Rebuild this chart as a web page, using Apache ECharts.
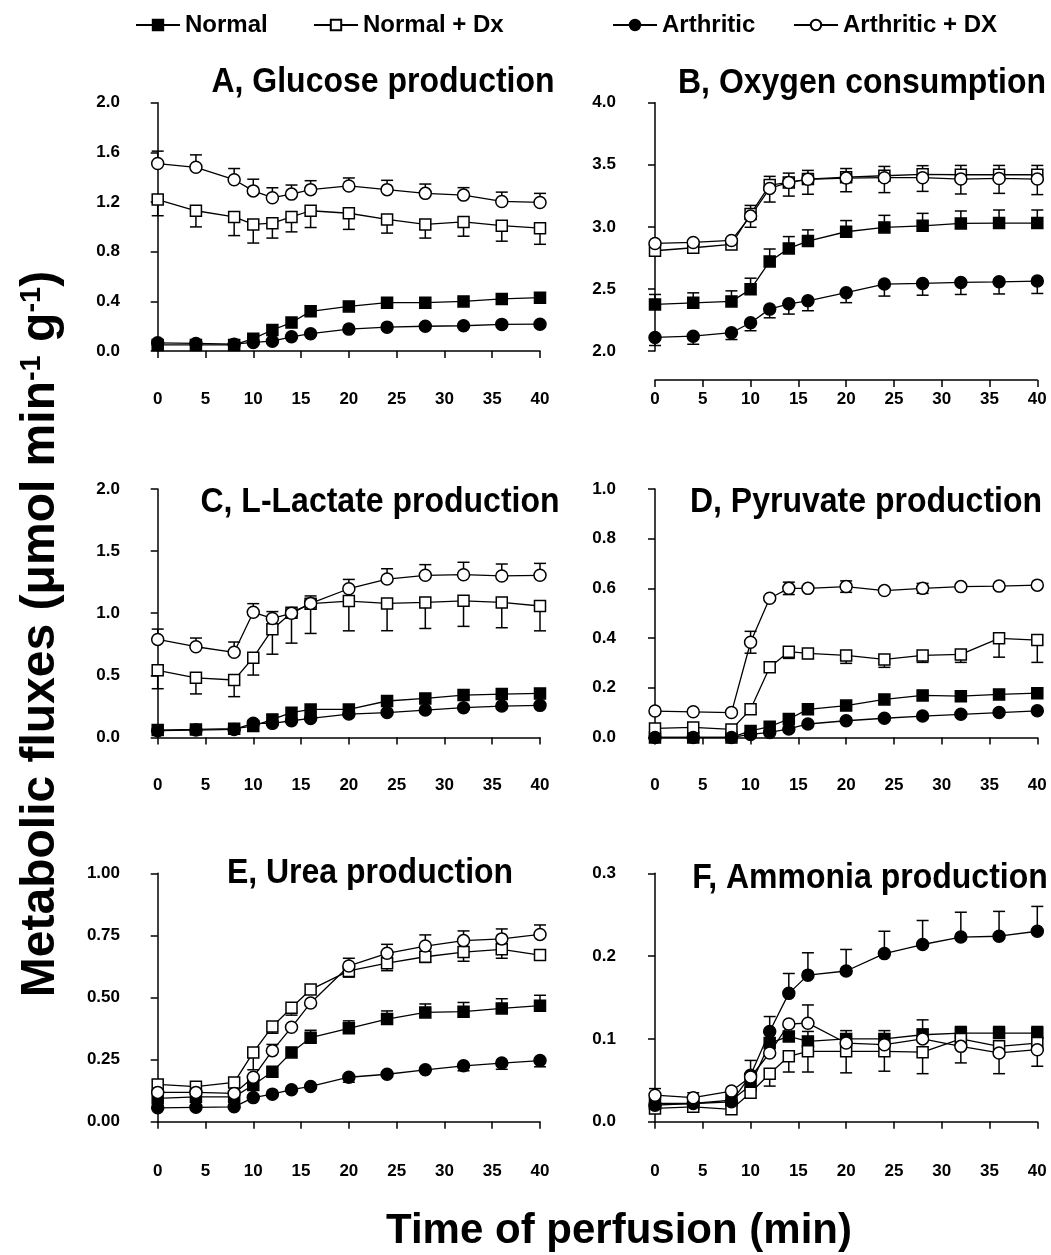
<!DOCTYPE html>
<html>
<head>
<meta charset="utf-8">
<title>Metabolic fluxes</title>
<script src="https://cdn.jsdelivr.net/npm/echarts@6/dist/echarts.min.js"></script>
<style>
html, body { margin: 0; padding: 0; background: #fff; }
#chart { width: 1051px; height: 1255px; }
</style>
</head>
<body>
<div id="chart"></div>
<script>
// sampling times (min)
var times = [0, 4, 8, 10, 12, 14, 16, 20, 24, 28, 32, 36, 40];
var groups = ['Normal', 'Normal + Dx', 'Arthritic', 'Arthritic + DX'];

// error bars: + drawn upwards, - drawn downwards, 0 = not visible
// A, glucose
var glucoseNormal = [0.05, 0.05, 0.05, 0.10, 0.17, 0.23, 0.32, 0.36, 0.39, 0.39, 0.40, 0.42, 0.43];
var glucoseNormalDx = [1.22, 1.13, 1.08, 1.02, 1.03, 1.08, 1.13, 1.11, 1.06, 1.02, 1.04, 1.01, 0.99];
var glucoseArth = [0.067, 0.062, 0.056, 0.07, 0.08, 0.115, 0.14, 0.177, 0.193, 0.20, 0.204, 0.215, 0.217];
var glucoseArthDx = [1.51, 1.48, 1.38, 1.29, 1.235, 1.264, 1.30, 1.33, 1.30, 1.27, 1.256, 1.205, 1.197];
var glucoseNormalDxErr = [-0.13, -0.13, -0.15, -0.15, -0.12, -0.12, -0.135, -0.13, -0.11, -0.11, -0.115, -0.125, -0.13];
var glucoseArthDxErr = [0.10, 0.10, 0.09, 0.094, 0.08, 0.073, 0.072, 0.064, 0.075, 0.075, 0.06, 0.075, 0.073];

// B, oxygen
var oxygenNormal = [2.376, 2.389, 2.40, 2.497, 2.722, 2.827, 2.886, 2.961, 2.996, 3.009, 3.028, 3.031, 3.031];
var oxygenNormalDx = [2.808, 2.832, 2.859, 3.103, 3.337, 3.358, 3.385, 3.40, 3.412, 3.423, 3.42, 3.42, 3.42];
var oxygenArth = [2.11, 2.12, 2.148, 2.228, 2.338, 2.381, 2.405, 2.47, 2.54, 2.545, 2.553, 2.558, 2.564];
var oxygenArthDx = [2.867, 2.875, 2.891, 3.087, 3.31, 3.358, 3.383, 3.393, 3.396, 3.396, 3.385, 3.39, 3.385];
var oxygenNormalErr = [0.08, 0.08, 0.085, 0.09, 0.10, 0.095, 0.09, 0.09, 0.097, 0.10, 0.10, 0.105, 0.105];
var oxygenNormalDxErr = [0.02, 0.02, 0.02, 0.07, 0.07, 0.075, 0.07, 0.07, 0.075, 0.07, 0.075, 0.075, 0.075];
var oxygenArthErr = [-0.065, -0.065, -0.055, -0.064, -0.07, -0.083, -0.08, -0.08, -0.097, -0.095, -0.097, -0.098, -0.10];
var oxygenArthDxErr = [-0.02, -0.02, -0.02, -0.09, -0.11, -0.11, -0.12, -0.11, -0.12, -0.11, -0.12, -0.12, -0.125];

// C, L-lactate
var lactateNormal = [0.059, 0.064, 0.07, 0.091, 0.145, 0.199, 0.225, 0.225, 0.293, 0.314, 0.341, 0.349, 0.354];
var lactateNormalDx = [0.54, 0.48, 0.462, 0.642, 0.87, 1.004, 1.077, 1.098, 1.079, 1.087, 1.10, 1.087, 1.058];
var lactateArth = [0.054, 0.059, 0.064, 0.113, 0.113, 0.134, 0.153, 0.188, 0.20, 0.22, 0.239, 0.252, 0.258];
var lactateArthDx = [0.789, 0.73, 0.685, 1.007, 0.958, 0.999, 1.079, 1.197, 1.275, 1.305, 1.31, 1.30, 1.305];
var lactateNormalDxErr = [-0.148, -0.13, -0.134, -0.14, -0.2, -0.245, -0.24, -0.24, -0.22, -0.21, -0.206, -0.204, -0.2];
var lactateArthDxErr = [0.083, 0.07, 0.083, 0.07, 0.055, 0.03, 0.06, 0.075, 0.083, 0.086, 0.10, 0.096, 0.096];

// D, pyruvate
var pyruvateNormal = [0, 0, 0, 0.026, 0.043, 0.074, 0.113, 0.128, 0.153, 0.169, 0.166, 0.173, 0.178];
var pyruvateNormalDx = [0.036, 0.04, 0.032, 0.113, 0.282, 0.345, 0.338, 0.33, 0.314, 0.33, 0.334, 0.399, 0.392];
var pyruvateArth = [0, 0, 0, 0.012, 0.02, 0.034, 0.054, 0.067, 0.077, 0.086, 0.093, 0.10, 0.107];
var pyruvateArthDx = [0.106, 0.103, 0.10, 0.383, 0.56, 0.60, 0.60, 0.607, 0.591, 0.60, 0.607, 0.609, 0.613];
var pyruvateNormalDxErr = [0, 0, 0, -0.015, 0, -0.027, -0.02, -0.032, -0.032, -0.028, -0.032, -0.076, -0.09];
var pyruvateArthDxErr = [0, 0, 0, 0.044, 0, 0.025, 0, 0.023, 0, 0.02, 0, 0, 0]; // two-sided

// E, urea
var ureaNormal = [0.094, 0.10, 0.10, 0.148, 0.201, 0.279, 0.338, 0.376, 0.413, 0.44, 0.443, 0.456, 0.467];
var ureaNormalDx = [0.15, 0.141, 0.158, 0.279, 0.383, 0.459, 0.532, 0.607, 0.638, 0.664, 0.683, 0.694, 0.671];
var ureaArth = [0.056, 0.058, 0.06, 0.097, 0.111, 0.129, 0.142, 0.179, 0.191, 0.209, 0.225, 0.236, 0.246];
var ureaArthDx = [0.118, 0.118, 0.114, 0.179, 0.286, 0.38, 0.478, 0.627, 0.678, 0.707, 0.729, 0.736, 0.754];
var ureaNormalErr = [0, 0, 0, 0, 0, 0, 0.03, 0.03, 0.033, 0.034, 0.037, 0.039, 0.042];
var ureaNormalDxErr = [0, 0, 0, -0.07, -0.027, -0.03, 0, -0.025, -0.03, -0.023, -0.037, -0.036, -0.02];
var ureaArthErr = [0, 0, 0, 0, 0, 0, 0, -0.02, 0, 0, -0.02, -0.025, -0.025];
var ureaArthDxErr = [0, 0, 0, 0, 0.025, 0, 0, 0.031, 0.036, 0.045, 0.039, 0.04, 0.038];

// F, ammonia
var ammoniaNormal = [0.022, 0.022, 0.026, 0.044, 0.095, 0.103, 0.097, 0.10, 0.10, 0.105, 0.107, 0.107, 0.107];
var ammoniaNormalDx = [0.016, 0.018, 0.015, 0.035, 0.058, 0.079, 0.085, 0.085, 0.085, 0.084, 0.10, 0.091, 0.095];
var ammoniaArth = [0.02, 0.022, 0.024, 0.056, 0.109, 0.155, 0.177, 0.182, 0.203, 0.214, 0.223, 0.224, 0.23];
var ammoniaArthDx = [0.032, 0.029, 0.037, 0.054, 0.083, 0.118, 0.119, 0.095, 0.093, 0.10, 0.091, 0.083, 0.087];
var ammoniaNormalErr = [0, 0, 0, 0, 0, 0, 0.012, 0.01, 0.01, 0.007, 0.008, 0.008, 0.008];
var ammoniaNormalDxErr = [0, 0, 0, 0, -0.015, -0.019, -0.025, -0.026, -0.024, -0.026, 0, 0, 0];
var ammoniaArthErr = [0, 0, 0, 0.018, 0.018, 0.024, 0.027, 0.026, 0.027, 0.029, 0.03, 0.03, 0.03];
var ammoniaArthDxErr = [0.008, 0.006, 0, 0, 0, 0, 0.022, 0, 0, 0.023, -0.02, -0.025, -0.02];

var panels = [
    { title: 'A, Glucose production', min: 0, max: 2, interval: 0.4, dec: 1, tx: 383, ty: 82,
      vals: [glucoseNormal, glucoseNormalDx, glucoseArth, glucoseArthDx],
      errs: [null, glucoseNormalDxErr, null, glucoseArthDxErr] },
    { title: 'B, Oxygen consumption', min: 2, max: 4, interval: 0.5, dec: 1, tx: 862, ty: 83,
      vals: [oxygenNormal, oxygenNormalDx, oxygenArth, oxygenArthDx],
      errs: [oxygenNormalErr, oxygenNormalDxErr, oxygenArthErr, oxygenArthDxErr] },
    { title: 'C, L-Lactate production', min: 0, max: 2, interval: 0.5, dec: 1, tx: 380, ty: 502,
      vals: [lactateNormal, lactateNormalDx, lactateArth, lactateArthDx],
      errs: [null, lactateNormalDxErr, null, lactateArthDxErr] },
    { title: 'D, Pyruvate production', min: 0, max: 1, interval: 0.2, dec: 1, tx: 866, ty: 502,
      vals: [pyruvateNormal, pyruvateNormalDx, pyruvateArth, pyruvateArthDx],
      errs: [null, pyruvateNormalDxErr, null, pyruvateArthDxErr], twoSided: 3 },
    { title: 'E, Urea production', min: 0, max: 1, interval: 0.25, dec: 2, tx: 370, ty: 873,
      vals: [ureaNormal, ureaNormalDx, ureaArth, ureaArthDx],
      errs: [ureaNormalErr, ureaNormalDxErr, ureaArthErr, ureaArthDxErr] },
    { title: 'F, Ammonia production', min: 0, max: 0.3, interval: 0.1, dec: 1, tx: 870, ty: 878,
      vals: [ammoniaNormal, ammoniaNormalDx, ammoniaArth, ammoniaArthDx],
      errs: [ammoniaNormalErr, ammoniaNormalDxErr, ammoniaArthErr, ammoniaArthDxErr] }
];

var FONT = '"Liberation Sans", Arial, Helvetica, sans-serif';
var colLeft = [157.7, 655];
var rowTop = [102.7, 489, 873.3];
var plotW = 382.3, plotH = 248.4;
var yOff = [26.7, 28];
var xOff = [29, 28.4, 30];
var symbols = ['rect', 'rect', 'circle', 'circle'];
var fills = ['#000', '#fff', '#000', '#fff'];
var sizes = [11, 11, 12, 12];
var legendLeft = [135, 313, 612, 793];

var grid = [], xAxis = [], yAxis = [], series = [], graphic = [];

panels.forEach(function (p, i) {
    var col = i % 2, row = Math.floor(i / 2);
    grid.push({ left: colLeft[col], top: rowTop[row], width: plotW, height: plotH });
    xAxis.push({
        gridIndex: i, type: 'value', min: 0, max: 40, interval: 5, offset: xOff[row],
        axisLine: { lineStyle: { color: '#000', width: 1.5 } },
        axisTick: { length: 7, lineStyle: { color: '#000', width: 1.5 } },
        axisLabel: { color: '#000', fontSize: 17, fontWeight: 'bold', fontFamily: FONT, margin: 11 },
        splitLine: { show: false }
    });
    yAxis.push({
        gridIndex: i, type: 'value', min: p.min, max: p.max, interval: p.interval, offset: yOff[col],
        axisLine: { show: true, lineStyle: { color: '#000', width: 1.5 } },
        axisTick: { show: true, length: 7, lineStyle: { color: '#000', width: 1.5 } },
        axisLabel: {
            color: '#000', fontSize: 17, fontWeight: 'bold', fontFamily: FONT, margin: 11,
            formatter: (function (d) { return function (v) { return v.toFixed(d); }; })(p.dec)
        },
        splitLine: { show: false }
    });

    // error bars under the markers
    p.vals.forEach(function (vals, g) {
        var errs = p.errs[g];
        if (!errs) return;
        var both = p.twoSided === g;
        series.push({
            type: 'custom', xAxisIndex: i, yAxisIndex: i, silent: true, z: 1,
            data: times.map(function (t, k) { return [t, vals[k], errs[k]]; }),
            encode: { x: 0, y: 1 },
            renderItem: function (params, api) {
                var x = api.value(0), y = api.value(1), e = api.value(2);
                if (!e) return;
                var p0 = api.coord([x, y]);
                var ends = both ? [y + Math.abs(e), y - Math.abs(e)] : [y + e];
                var kids = [];
                ends.forEach(function (v) {
                    var p1 = api.coord([x, v]);
                    kids.push({ type: 'line', shape: { x1: p0[0], y1: p0[1], x2: p1[0], y2: p1[1] },
                        style: { stroke: '#000', lineWidth: 1.5 } });
                    kids.push({ type: 'line', shape: { x1: p1[0] - 6, y1: p1[1], x2: p1[0] + 6, y2: p1[1] },
                        style: { stroke: '#000', lineWidth: 1.5 } });
                });
                return { type: 'group', children: kids };
            }
        });
    });

    p.vals.forEach(function (vals, g) {
        series.push({
            name: groups[g], type: 'line', xAxisIndex: i, yAxisIndex: i, z: 3, clip: false,
            data: times.map(function (t, k) { return [t, vals[k]]; }),
            symbol: symbols[g], symbolSize: sizes[g], showAllSymbol: true,
            lineStyle: { color: '#000', width: 1.3 },
            itemStyle: { color: fills[g], borderColor: '#000', borderWidth: 1.5, opacity: 1 }
        });
    });

    graphic.push({
        type: 'text', x: p.tx, y: p.ty, scaleY: 1.12, silent: true,
        style: { text: p.title, fill: '#000', fontSize: 32, fontWeight: 'bold', fontFamily: FONT,
            align: 'center', verticalAlign: 'middle' }
    });
});

graphic.push({
    type: 'text', x: 619, y: 1231, silent: true,
    style: { text: 'Time of perfusion (min)', fill: '#000', fontSize: 42, fontWeight: 'bold',
        fontFamily: FONT, align: 'center', verticalAlign: 'middle' }
});
graphic.push({
    type: 'text', x: 41, y: 634, rotation: Math.PI / 2, silent: true,
    style: {
        text: '{a|Metabolic fluxes (\u03bcmol min}{s|-1}{a| g}{s|-1}{a|)}',
        align: 'center', verticalAlign: 'middle',
        rich: {
            a: { fill: '#000', fontSize: 48, fontWeight: 'bold', fontFamily: FONT },
            s: { fill: '#000', fontSize: 29, fontWeight: 'bold', fontFamily: FONT, verticalAlign: 'top' }
        }
    }
});

var legend = groups.map(function (g, i) {
    return {
        data: [g], left: legendLeft[i], top: 13, padding: 0, itemWidth: 44, itemHeight: 13,
        selectedMode: false,
        textStyle: { color: '#000', fontSize: 24, fontWeight: 'bold', fontFamily: FONT }
    };
});

var chart = echarts.init(document.getElementById('chart'), null, { renderer: 'canvas' });
chart.setOption({
    animation: false,
    backgroundColor: '#fff',
    legend: legend,
    grid: grid,
    xAxis: xAxis,
    yAxis: yAxis,
    series: series,
    graphic: graphic
});
</script>
</body>
</html>
